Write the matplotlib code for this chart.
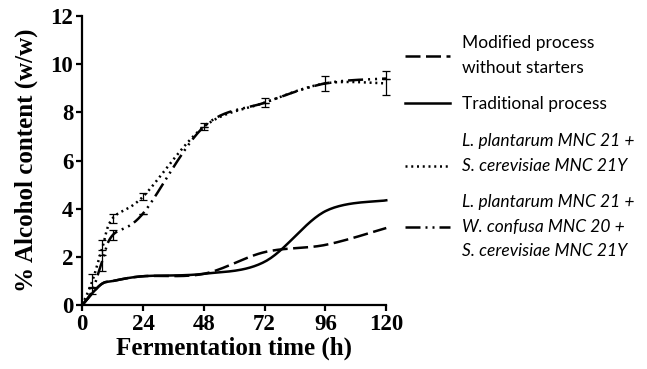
import numpy as np
import matplotlib.pyplot as plt
from matplotlib.lines import Line2D

# sampling times (h)
hours = [0, 4, 8, 12, 24, 48, 72, 96, 120]

# % alcohol (w/w)
modified = [0, 0.5, 0.9, 1.0, 1.2, 1.3, 2.2, 2.5, 3.2]
traditional = [0, 0.5, 0.9, 1.0, 1.2, 1.3, 1.8, 3.9, 4.35]
lp_sc = [0, 1.0, 2.4, 3.6, 4.5, 7.4, 8.4, 9.2, 9.2]
lp_sc_err = [0, 0.3, 0.3, 0.2, 0.15, 0.15, 0.2, 0.3, 0.5]
lp_wc_sc = [0, 0.6, 1.85, 2.9, 3.8, 7.4, 8.4, 9.2, 9.4]
lp_wc_sc_err = [0, 0.15, 0.45, 0.2, 0.0, 0.0, 0.0, 0.0, 0.0]

labels = ['Modified process\nwithout starters',
          'Traditional process',
          'L. plantarum MNC 21 +\nS. cerevisiae MNC 21Y',
          'L. plantarum MNC 21 +\nW. confusa MNC 20 +\nS. cerevisiae MNC 21Y']


def smooth(x, y, n=30):
    # excel-like smoothed line (bezier through points)
    x = np.asarray(x, float)
    y = np.asarray(y, float)
    px = np.concatenate([[x[0]], x, [x[-1]]])
    py = np.concatenate([[y[0]], y, [y[-1]]])
    xs, ys = [], []
    t = np.linspace(0, 1, n)
    for i in range(1, len(px) - 2):
        p0 = np.array([px[i], py[i]])
        p3 = np.array([px[i + 1], py[i + 1]])
        c1 = p0 + (np.array([px[i + 1], py[i + 1]]) - np.array([px[i - 1], py[i - 1]])) / 6
        c2 = p3 - (np.array([px[i + 2], py[i + 2]]) - np.array([px[i], py[i]])) / 6
        b = ((1 - t)[:, None] ** 3 * p0 + 3 * ((1 - t) ** 2 * t)[:, None] * c1
             + 3 * ((1 - t) * t ** 2)[:, None] * c2 + (t ** 3)[:, None] * p3)
        xs.extend(b[:, 0])
        ys.extend(b[:, 1])
    return np.array(xs), np.array(ys)


fig = plt.figure(figsize=(6.47, 3.69), dpi=100)
ax = fig.add_axes([0.127, 0.173, 0.470, 0.784])

styles = [dict(ls=(0, (6, 2.2)), lw=1.8),
          dict(ls='-', lw=1.8),
          dict(ls=(0, (0.8, 1.5)), lw=1.8),
          dict(ls=(0, (6, 2, 0.8, 2, 0.8, 2)), lw=1.8)]
series = [modified, traditional, lp_sc, lp_wc_sc]

handles = []
for vals, st, lab in zip(series, styles, labels):
    sx, sy = smooth(hours, vals)
    ax.plot(sx, sy, color='black', clip_on=False, **st)
    handles.append(Line2D([], [], color='black', **st))

for vals, err in [(lp_sc, lp_sc_err), (lp_wc_sc, lp_wc_sc_err)]:
    eb = ax.errorbar(hours[1:], vals[1:], yerr=err[1:], fmt='none', ecolor='black',
                     elinewidth=0.9, capsize=3, capthick=0.9)
    for art in eb.lines[1] + eb.lines[2]:
        art.set_clip_on(False)

ax.set_xlim(0, 120)
ax.set_ylim(0, 12)
ax.set_xticks([0, 24, 48, 72, 96, 120])
ax.set_yticks(range(0, 13, 2))
for s in ['top', 'right']:
    ax.spines[s].set_visible(False)
for s in ['left', 'bottom']:
    ax.spines[s].set_linewidth(1.6)
ax.tick_params(direction='out', length=4.5, width=1.6, pad=2)
for lbl in ax.get_xticklabels() + ax.get_yticklabels():
    lbl.set_fontfamily('Liberation Serif')
    lbl.set_fontweight('bold')
    lbl.set_fontsize(16.5)

ax.set_xlabel('Fermentation time (h)', family='Liberation Serif', weight='bold', fontsize=18, labelpad=1)
ax.set_ylabel('% Alcohol content (w/w)', family='Liberation Serif', weight='bold', fontsize=18, labelpad=9)

leg = fig.legend(handles, labels, loc='upper left', bbox_to_anchor=(0.626, 0.905),
                 frameon=False, handlelength=2.6, handletextpad=0.7, labelspacing=1.2,
                 borderpad=0, borderaxespad=0,
                 prop={'family': 'Lato', 'size': 12.5})
for txt in leg.get_texts():
    txt.set_linespacing(1.65)
for txt in leg.get_texts()[2:]:
    txt.set_fontstyle('italic')
# third handle sits by the second text line
h = leg.legend_handles[2]
h.set_ydata(np.asarray(h.get_ydata()) - 9)

fig.savefig('out.png', dpi=100)
